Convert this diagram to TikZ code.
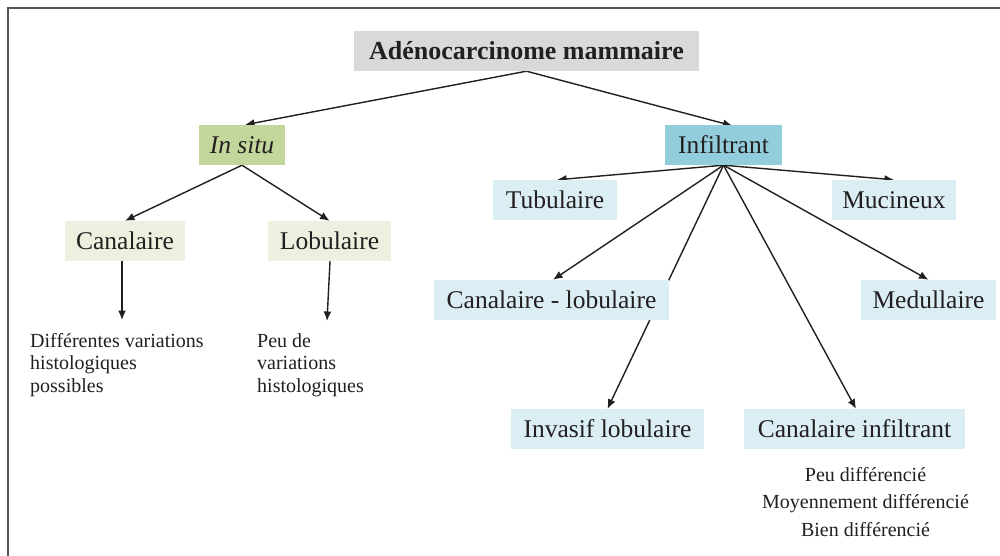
\documentclass[tikz,border=0pt]{standalone}
\usepackage{fontspec}
\setmainfont{Liberation Serif}
\usetikzlibrary{arrows.meta,backgrounds}
\pgfdeclarelayer{paper}
\pgfdeclarelayer{links}
\pgfsetlayers{paper,links,main}
\definecolor{txt}{HTML}{231F20}
\definecolor{titlegray}{HTML}{D9D9DB}
\definecolor{situgreen}{HTML}{C3D69B}
\definecolor{infblue}{HTML}{92CDDC}
\definecolor{lightgreen}{HTML}{EBF1DE}
\definecolor{lightblue}{HTML}{DBEEF4}
\definecolor{framegray}{HTML}{555555}
\tikzset{
  box/.style={inner sep=0pt, minimum height=40pt, text=txt,
    font=\fontsize{25.5}{30}\selectfont},
  titlebox/.style={box, fill=titlegray, font=\fontsize{26}{30}\selectfont\bfseries},
  situbox/.style={box, fill=situgreen, font=\fontsize{25.5}{30}\selectfont\itshape},
  infbox/.style={box, fill=infblue},
  gbox/.style={box, fill=lightgreen},
  bbox/.style={box, fill=lightblue},
  note/.style={inner sep=0pt, text=txt, font=\fontsize{20}{22.5}\selectfont},
  note2/.style={inner sep=0pt, text=txt, font=\fontsize{20}{27.5}\selectfont},
  conn/.style={draw=txt, line width=1.4pt, -{Latex[length=9.5pt,width=8pt]}},
}
\begin{document}
\begin{tikzpicture}[x=1pt,y=-1pt]
\useasboundingbox (0,0) rectangle (1000,556);
\begin{pgfonlayer}{paper}
\fill[white] (0,0) rectangle (1000,556);
\draw[framegray, line width=1.3pt] (8,556) -- (8,8) -- (1000,8);
\end{pgfonlayer}

\node[titlebox, minimum width=345pt] (title) at (526.5,51) {Adénocarcinome mammaire};
\node[situbox, minimum width=86pt] (insitu) at (242,145) {In situ};
\node[infbox, minimum width=117pt] (infil) at (723.5,145) {Infiltrant};
\node[gbox, minimum width=120pt] (canal) at (125,241) {Canalaire};
\node[gbox, minimum width=123pt] (lobul) at (329.5,241) {Lobulaire};
\node[bbox, minimum width=124pt] (tubul) at (555,200) {Tubulaire};
\node[bbox, minimum width=124pt] (mucin) at (894,200) {Mucineux};
\node[bbox, minimum width=235pt] (canlob) at (551.5,300) {Canalaire - lobulaire};
\node[bbox, minimum width=135pt] (medul) at (928.5,300) {Medullaire};
\node[bbox, minimum width=193pt] (invas) at (607.5,429) {Invasif lobulaire};
\node[bbox, minimum width=221pt] (caninf) at (854.5,429) {Canalaire infiltrant};

\node[note, anchor=north west, align=left] (canaltxt) at (30,333)
  {Différentes variations\\histologiques\\possibles};
\node[note, anchor=north west, align=left] (lobultxt) at (257,333)
  {Peu de\\variations\\histologiques};
\node[note2, anchor=north, align=center] (diff) at (865.5,467)
  {Peu différencié\\Moyennement différencié\\Bien différencié};

\coordinate (canalend) at (122,320);
\coordinate (lobulend) at (327,321);

\begin{pgfonlayer}{links}
\draw[conn] (title.south) -- ([xshift=3pt]insitu.north);
\draw[conn] (title.south) -- ([xshift=9pt,yshift=-1pt]infil.north);
\draw[conn] (insitu.south) -- (canal.north);
\draw[conn] (insitu.south) -- (lobul.north);
\draw[conn] ([xshift=-3pt]canal.south) -- (canalend);
\draw[conn] ([xshift=0.5pt]lobul.south) -- (lobulend);
\draw[conn] (infil.south) -- ([xshift=2pt]tubul.north);
\draw[conn] (infil.south) -- (mucin.north);
\draw[conn] (infil.south) -- ([xshift=1.5pt]canlob.north);
\draw[conn] (infil.south) -- (medul.north);
\draw[conn] (infil.south) -- (invas.north);
\draw[conn] (infil.south) -- ([xshift=1.5pt]caninf.north);
\end{pgfonlayer}
\end{tikzpicture}
\end{document}
